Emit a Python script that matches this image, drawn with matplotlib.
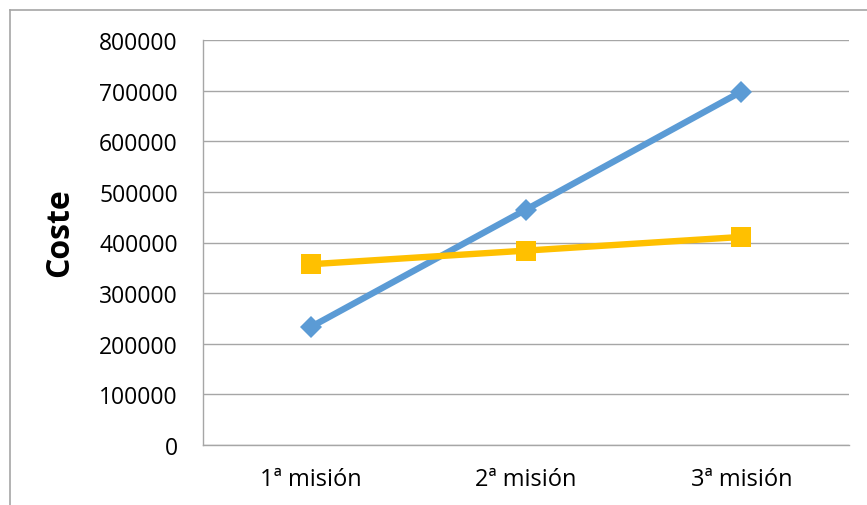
import matplotlib.pyplot as plt
from matplotlib.lines import Line2D

plt.rcParams['font.family'] = ['Open Sans', 'DejaVu Sans']

# Data
misiones = ['1ª misión', '2ª misión', '3ª misión']
serie_azul = [233000, 465000, 698000]
serie_amarilla = [357000, 384000, 411000]
y_ticks = [0, 100000, 200000, 300000, 400000, 500000, 600000, 700000, 800000]

fig = plt.figure(figsize=(8.67, 5.06), dpi=100)
ax = fig.add_axes([203/867, 1 - 446/506, 646/867, 405/506])

x = range(len(misiones))
ax.plot(x, serie_azul, color='#5B9BD5', linewidth=4.6, marker='D',
        markersize=11, markeredgewidth=0, zorder=3)
ax.plot(x, serie_amarilla, color='#FFC000', linewidth=4.6, marker='s',
        markersize=14.5, markeredgewidth=0, zorder=3)

ax.set_xlim(-0.5, 2.5)
ax.set_ylim(0, 800000)
ax.set_yticks(y_ticks)
ax.set_yticklabels([str(v) for v in y_ticks])
ax.set_xticks(list(x))
ax.set_xticklabels(misiones)

ax.grid(True, axis='y', color='#a6a6a6', linewidth=1)
ax.set_axisbelow(True)
for side in ['top', 'right']:
    ax.spines[side].set_visible(False)
for side in ['left', 'bottom']:
    ax.spines[side].set_color('#a6a6a6')
    ax.spines[side].set_linewidth(1)

ax.tick_params(axis='y', length=0, pad=18, labelsize=16.5)
ax.tick_params(axis='x', length=0, pad=16, labelsize=17)

ax.set_ylabel('Coste', fontsize=23, fontweight='bold')
# label sits a bit above the middle of the plot area, as in the original
ax.yaxis.set_label_coords(-(203 - 76) / 646, (446 - 233) / 405)

# outer chart frame (cropped at right and bottom)
fx = 10 / 867
fy = 1 - 11 / 506
fig.add_artist(Line2D([fx, 1], [fy, fy], color='#a6a6a6', linewidth=1.2,
                      transform=fig.transFigure))
fig.add_artist(Line2D([fx, fx], [0, fy], color='#a6a6a6', linewidth=1.2,
                      transform=fig.transFigure))

fig.savefig('out.png', dpi=100)
